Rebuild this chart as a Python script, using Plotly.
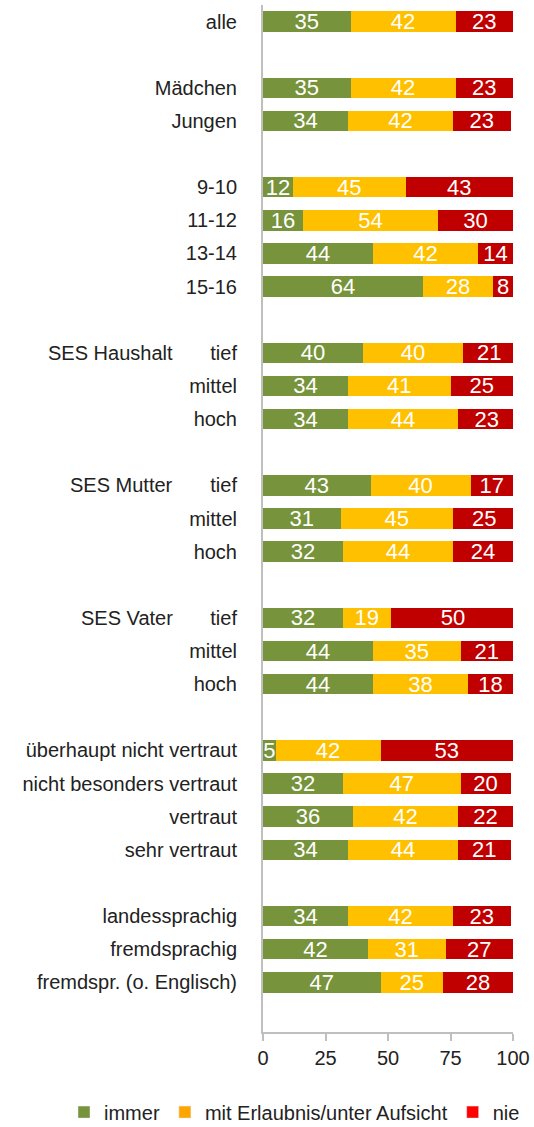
import plotly.graph_objects as go

# Gruppen: (Gruppenname, Unterkategorien)
groups = [
    ("", ["alle"]),
    ("", ["Mädchen", "Jungen"]),
    ("", ["9-10", "11-12", "13-14", "15-16"]),
    ("SES Haushalt", ["tief", "mittel", "hoch"]),
    ("SES Mutter", ["tief", "mittel", "hoch"]),
    ("SES Vater", ["tief", "mittel", "hoch"]),
    ("", ["überhaupt nicht vertraut", "nicht besonders vertraut", "vertraut", "sehr vertraut"]),
    ("", ["landessprachig", "fremdsprachig", "fremdspr. (o. Englisch)"]),
]

immer = [35, 35, 34, 12, 16, 44, 64, 40, 34, 34, 43, 31, 32, 32, 44, 44, 5, 32, 36, 34, 34, 42, 47]
erlaubnis = [42, 42, 42, 45, 54, 42, 28, 40, 41, 44, 40, 45, 44, 19, 35, 38, 42, 47, 42, 44, 42, 31, 25]
nie = [23, 23, 23, 43, 30, 14, 8, 21, 25, 23, 17, 25, 24, 50, 21, 18, 53, 20, 22, 21, 23, 27, 28]

series_names = ["immer", "mit Erlaubnis/unter Aufsicht", "nie"]
bar_colors = ["#77933C", "#FFC000", "#C00000"]
legend_colors = ["#77933C", "#FFA500", "#FF0000"]

# y-Positionen mit einer Leerzeile zwischen den Gruppen
ypos, labels, group_anno = [], [], []
pos = 0
for gname, subs in groups:
    for k, s in enumerate(subs):
        ypos.append(pos)
        labels.append(s)
        if gname and k == 0:
            group_anno.append((gname, pos))
        pos += 1
    pos += 1

fig = go.Figure()
for name, vals, col in zip(series_names, [immer, erlaubnis, nie], bar_colors):
    fig.add_trace(go.Bar(
        x=vals, y=ypos, orientation="h", name=name,
        marker=dict(color=col, line=dict(width=0)),
        width=0.62,
        text=[str(v) for v in vals],
        textposition="inside", insidetextanchor="middle",
        constraintext="none", textangle=0,
        textfont=dict(color="white", size=22, family="Liberation Sans, Arial"),
        showlegend=False, hoverinfo="x+y",
    ))

# Legendeneinträge (andere Farbtöne als die Balken)
for name, col in zip(series_names, legend_colors):
    fig.add_trace(go.Bar(x=[None], y=[None], orientation="h", name=name,
                         marker=dict(color=col), showlegend=True))

for gname, p in group_anno:
    fig.add_annotation(text=gname, x=-0.352, xref="paper", xanchor="right",
                       y=p, yref="y", yanchor="middle", showarrow=False,
                       font=dict(size=20, color="#222"))

fig.update_layout(
    barmode="stack",
    width=534, height=1127,
    margin=dict(l=263, r=21, t=5, b=95, autoexpand=False),
    plot_bgcolor="white", paper_bgcolor="white",
    font=dict(family="Liberation Sans, Arial", size=20, color="#222"),
    legend=dict(orientation="h", x=-0.796, xanchor="left",
                y=-0.078, yanchor="middle",
                font=dict(size=20, color="#222"), itemwidth=30,
                traceorder="normal"),
)
fig.update_xaxes(range=[0, 100], tickvals=[0, 25, 50, 75, 100], showgrid=False,
                 zeroline=False, showline=True, linecolor="#BFBFBF", linewidth=2,
                 ticks="outside", ticklen=7, tickcolor="#BFBFBF", tickwidth=2,
                 automargin=False, ticklabeloverflow="allow")
fig.update_yaxes(range=[pos - 0.5, -0.5], tickvals=ypos, ticktext=labels,
                 showgrid=False, zeroline=False, showline=True,
                 linecolor="#BFBFBF", linewidth=2,
                 ticks="outside", ticklen=20, tickcolor="rgba(0,0,0,0)",
                 automargin=False)

# Body-Rand entfernen, damit die Figur genau ins Fenster passt
fig.write_html("out.html", config={"displayModeBar": False},
               post_script="document.body.style.margin='0';")
